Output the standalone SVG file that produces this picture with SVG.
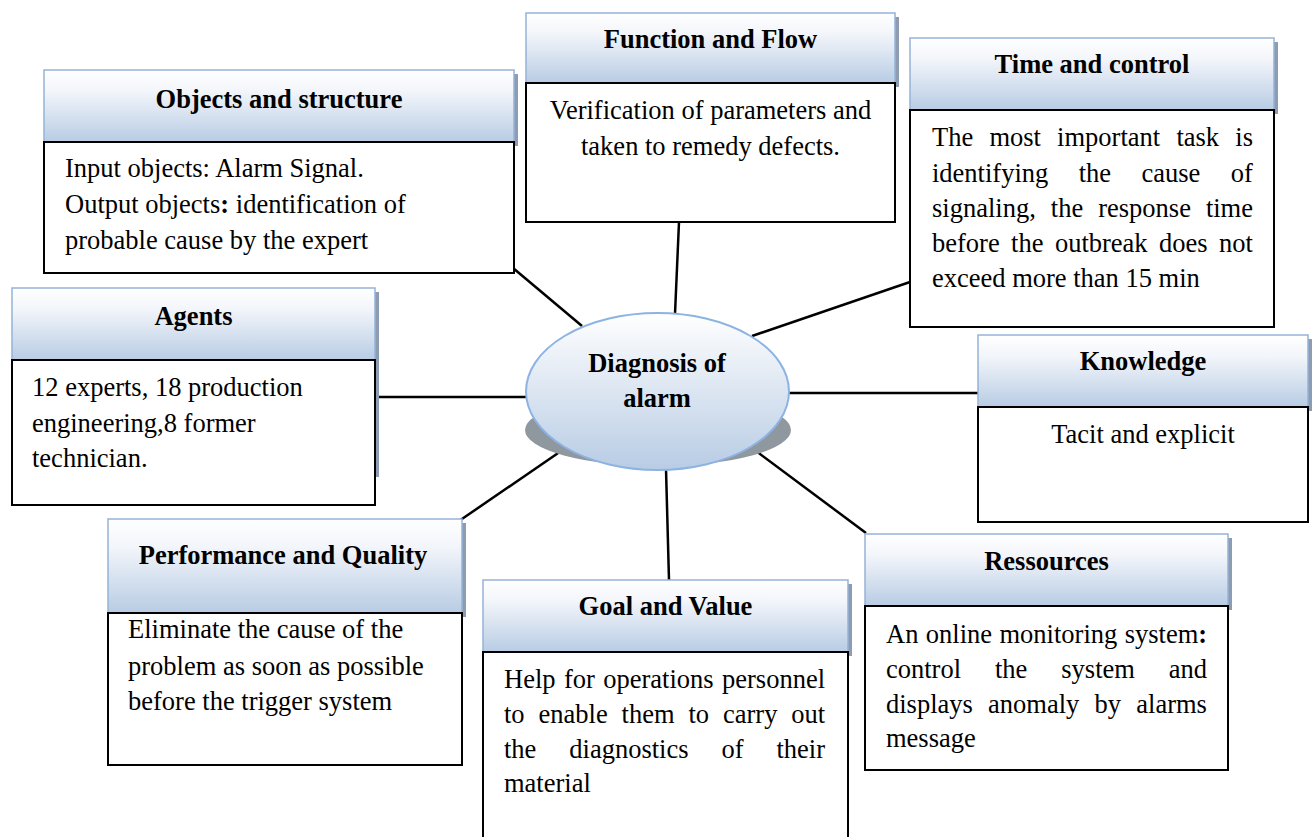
<svg xmlns="http://www.w3.org/2000/svg" width="1315" height="837" viewBox="0 0 1315 837">
<defs>
<linearGradient id="hg" x1="0" y1="0" x2="0" y2="1">
<stop offset="0" stop-color="#ffffff"/>
<stop offset="0.3" stop-color="#f2f5fa"/>
<stop offset="1" stop-color="#b8cce4"/>
</linearGradient>
<linearGradient id="eg" x1="0" y1="0" x2="0" y2="1">
<stop offset="0" stop-color="#ffffff"/>
<stop offset="1" stop-color="#b8cce4"/>
</linearGradient>
</defs>
<style>
.hd{fill:url(#hg);stroke:#95b3d7;stroke-width:1.5}
.sh{fill:#8e9cb2}
.bd{fill:#ffffff;stroke:#000000;stroke-width:2}
.t{font-family:"Liberation Serif","Times New Roman",serif;font-size:26.5px;fill:#000000}
.b{font-weight:bold}
.c{text-anchor:middle}
.ln{stroke:#000000;stroke-width:2.5;fill:none}
</style>
<rect width="1315" height="837" fill="#ffffff"/>
<g id="connectors">
<line class="ln" x1="513" y1="268" x2="582" y2="326"/>
<line class="ln" x1="679" y1="222" x2="675" y2="314"/>
<line class="ln" x1="910" y1="282" x2="752" y2="336"/>
<line class="ln" x1="375" y1="397" x2="528" y2="397"/>
<line class="ln" x1="788" y1="393" x2="978" y2="393"/>
<line class="ln" x1="459" y1="521" x2="564" y2="449"/>
<line class="ln" x1="666" y1="469" x2="669" y2="580"/>
<line class="ln" x1="752" y1="448" x2="866" y2="533"/>
</g>
<g id="center">
<ellipse cx="658" cy="430" rx="133" ry="36" fill="#8f989f"/>
<ellipse cx="657.5" cy="391.5" rx="131.5" ry="78.5" fill="url(#eg)" stroke="#8db3e2" stroke-width="2"/>
<text class="t b c" x="657" y="372">Diagnosis of</text>
<text class="t b c" x="657" y="407">alarm</text>
</g>
<g id="objects">
<rect class="sh" x="48" y="74" width="470" height="72"/>
<rect class="hd" x="44" y="70" width="470" height="72"/>
<rect class="bd" x="44" y="142" width="470" height="131"/>
<text class="t b c" x="279" y="108">Objects and structure</text>
<text class="t" x="65" y="177">Input objects: Alarm Signal.</text>
<text class="t" x="65" y="213">Output objects<tspan class="b">:</tspan> identification of</text>
<text class="t" x="65" y="249">probable cause by the expert</text>
</g>
<g id="function">
<rect class="sh" x="530" y="17" width="369" height="70"/>
<rect class="hd" x="526" y="13" width="369" height="70"/>
<rect class="bd" x="526" y="83" width="369" height="139"/>
<text class="t b c" x="710.5" y="48">Function and Flow</text>
<text class="t c" x="710.5" y="119">Verification of parameters and</text>
<text class="t c" x="710.5" y="155">taken to remedy defects.</text>
</g>
<g id="time">
<rect class="sh" x="914" y="42" width="364" height="72"/>
<rect class="hd" x="910" y="38" width="364" height="72"/>
<rect class="bd" x="910" y="110" width="364" height="217"/>
<text class="t b c" x="1092" y="73">Time and control</text>
<text class="t" y="146"><tspan x="932">The</tspan><tspan x="989.4">most</tspan><tspan x="1057.1">important</tspan><tspan x="1176.4">task</tspan><tspan x="1235.3">is</tspan></text>
<text class="t" y="182"><tspan x="932">identifying</tspan><tspan x="1078.7">the</tspan><tspan x="1141.5">cause</tspan><tspan x="1230.8">of</tspan></text>
<text class="t" y="217"><tspan x="932">signaling,</tspan><tspan x="1050.8">the</tspan><tspan x="1098.2">response</tspan><tspan x="1205.9">time</tspan></text>
<text class="t" y="252"><tspan x="932">before</tspan><tspan x="1011.1">the</tspan><tspan x="1054.9">outbreak</tspan><tspan x="1159">does</tspan><tspan x="1219">not</tspan></text>
<text class="t" x="932" y="287">exceed more than 15 min</text>
</g>
<g id="agents">
<rect class="sh" x="16" y="292" width="363" height="185"/>
<rect class="hd" x="12" y="288" width="363" height="72"/>
<rect class="bd" x="12" y="360" width="363" height="145"/>
<text class="t b c" x="193.5" y="325">Agents</text>
<text class="t" x="32" y="396">12 experts, 18 production</text>
<text class="t" x="32" y="432">engineering,8 former</text>
<text class="t" x="32" y="467">technician.</text>
</g>
<g id="knowledge">
<rect class="sh" x="982" y="339" width="330" height="72"/>
<rect class="hd" x="978" y="335" width="330" height="72"/>
<rect class="bd" x="978" y="407" width="330" height="115"/>
<text class="t b c" x="1143" y="370">Knowledge</text>
<text class="t c" x="1143" y="443">Tacit and explicit</text>
</g>
<g id="performance">
<rect class="sh" x="112" y="523" width="354" height="94"/>
<rect class="hd" x="108" y="519" width="354" height="94"/>
<rect class="bd" x="108" y="613" width="354" height="152"/>
<text class="t b c" x="283" y="564">Performance and Quality</text>
<text class="t" x="128" y="638">Eliminate the cause of the</text>
<text class="t" x="128" y="675">problem as soon as possible</text>
<text class="t" x="128" y="710">before the trigger system</text>
</g>
<g id="goal">
<rect class="sh" x="487" y="584" width="365" height="72"/>
<rect class="hd" x="483" y="580" width="365" height="72"/>
<rect class="bd" x="483" y="652" width="365" height="200"/>
<text class="t b c" x="665.5" y="615">Goal and Value</text>
<text class="t" y="688"><tspan x="504">Help</tspan><tspan x="563.9">for</tspan><tspan x="603.2">operations</tspan><tspan x="722">personnel</tspan></text>
<text class="t" y="723"><tspan x="504">to</tspan><tspan x="538.5">enable</tspan><tspan x="621.6">them</tspan><tspan x="688.5">to</tspan><tspan x="723">carry</tspan><tspan x="791.3">out</tspan></text>
<text class="t" y="758"><tspan x="504">the</tspan><tspan x="569.3">diagnostics</tspan><tspan x="721.5">of</tspan><tspan x="776.5">their</tspan></text>
<text class="t" x="504" y="792">material</text>
</g>
<g id="ressources">
<rect class="sh" x="869" y="538" width="363" height="72"/>
<rect class="hd" x="865" y="534" width="363" height="72"/>
<rect class="bd" x="865" y="606" width="363" height="164"/>
<text class="t b c" x="1046.5" y="570">Ressources</text>
<text class="t" y="643"><tspan x="886">An</tspan><tspan x="925.8">online</tspan><tspan x="999.5">monitoring</tspan><tspan x="1124.7">system<tspan class="b">:</tspan></tspan></text>
<text class="t" y="678"><tspan x="886">control</tspan><tspan x="995">the</tspan><tspan x="1061.3">system</tspan><tspan x="1168.8">and</tspan></text>
<text class="t" y="713"><tspan x="886">displays</tspan><tspan x="988.1">anomaly</tspan><tspan x="1094.6">by</tspan><tspan x="1136.3">alarms</tspan></text>
<text class="t" x="886" y="747">message</text>
</g>
</svg>
